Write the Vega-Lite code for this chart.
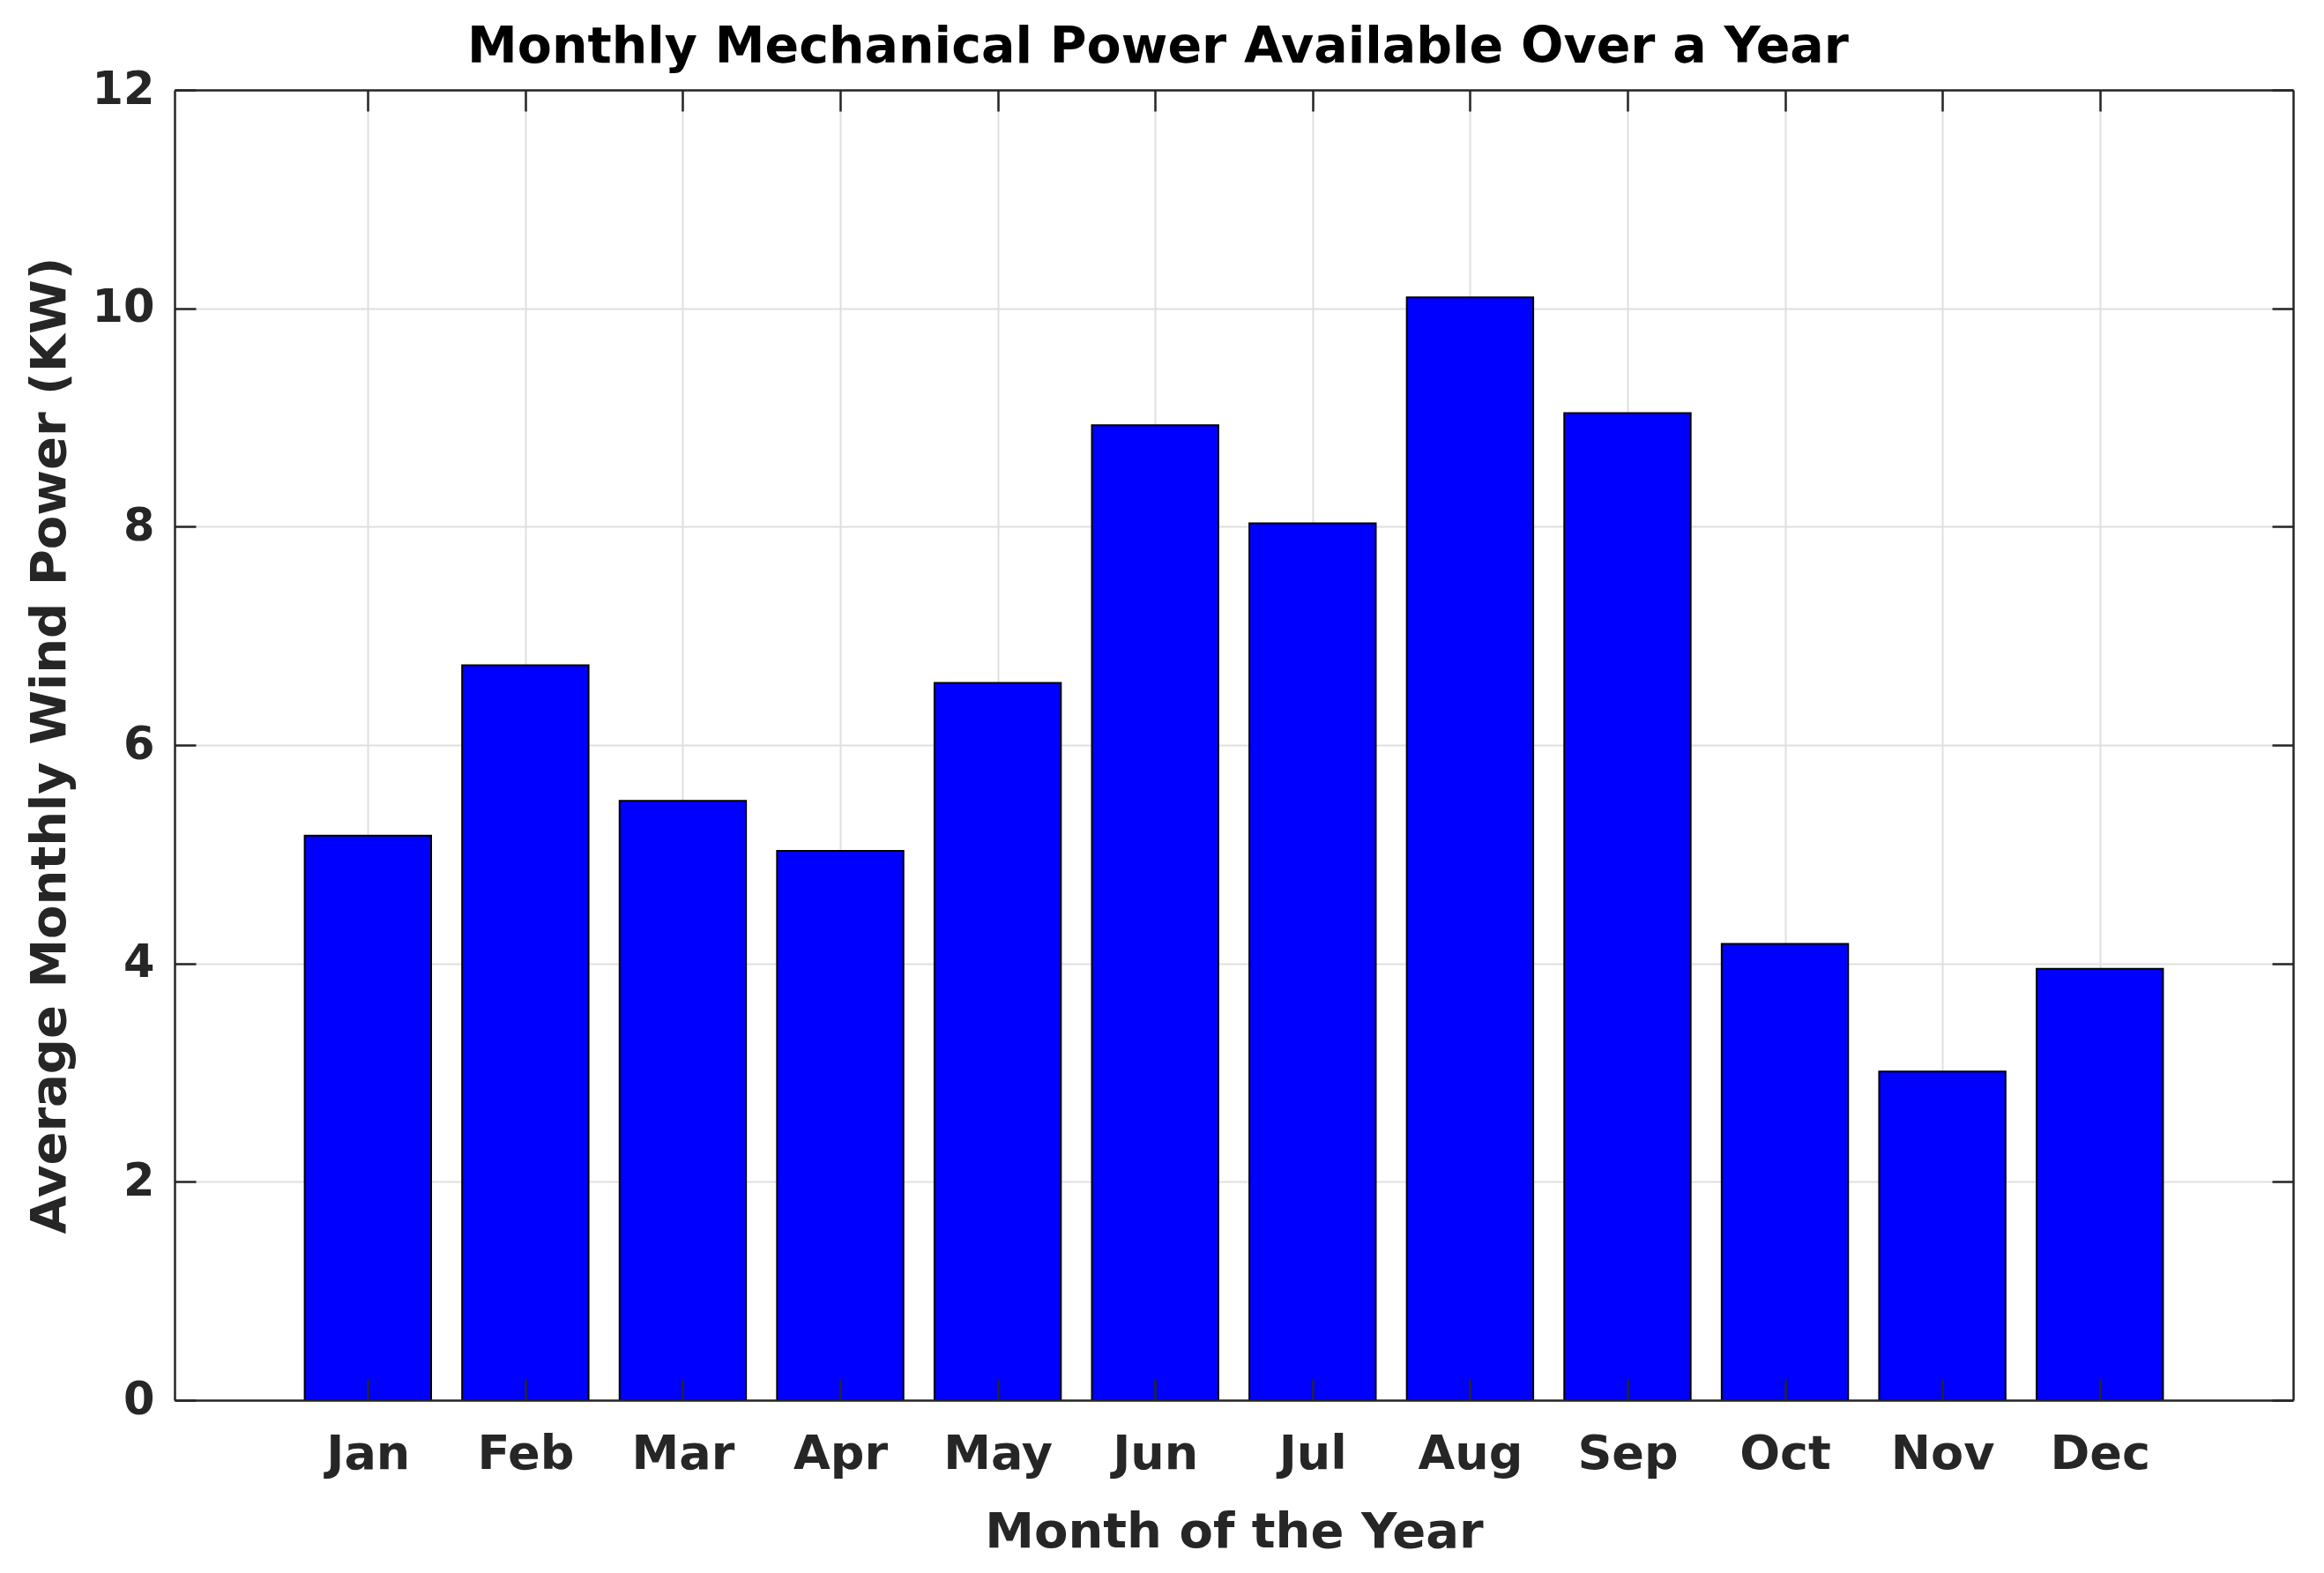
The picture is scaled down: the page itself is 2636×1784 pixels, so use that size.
{
  "$schema": "https://vega.github.io/schema/vega-lite/v6.json",
  "width": 2403,
  "height": 1486,
  "autosize": {"type": "none"},
  "padding": {"left": 198, "top": 102, "right": 35, "bottom": 196},
  "background": "white",
  "title": {
    "text": "Monthly Mechanical Power Available Over a Year",
    "anchor": "start",
    "frame": "group",
    "dx": 332,
    "dy": 81,
    "offset": 29,
    "baseline": "alphabetic",
    "font": "DejaVu Sans",
    "fontSize": 57,
    "fontWeight": "bold",
    "color": "#000000"
  },
  "config": {"view": {"stroke": null}},
  "data": {
    "values": [
      {"month": "Jan", "m": 1, "power": 5.17},
      {"month": "Feb", "m": 2, "power": 6.73},
      {"month": "Mar", "m": 3, "power": 5.49},
      {"month": "Apr", "m": 4, "power": 5.03},
      {"month": "May", "m": 5, "power": 6.57},
      {"month": "Jun", "m": 6, "power": 8.93},
      {"month": "Jul", "m": 7, "power": 8.03},
      {"month": "Aug", "m": 8, "power": 10.1},
      {"month": "Sep", "m": 9, "power": 9.04},
      {"month": "Oct", "m": 10, "power": 4.18},
      {"month": "Nov", "m": 11, "power": 3.01},
      {"month": "Dec", "m": 12, "power": 3.95}
    ]
  },
  "layer": [
    {
      "mark": {"type": "bar", "width": 143.4, "fill": "#0000ff", "stroke": "#000000", "strokeWidth": 2},
      "encoding": {
        "x": {
          "field": "m",
          "type": "quantitative",
          "scale": {"domain": [-0.2, 13.2], "nice": false, "zero": false},
          "axis": {
            "orient": "bottom",
            "zindex": 1,
            "values": [1, 2, 3, 4, 5, 6, 7, 8, 9, 10, 11, 12],
            "labelExpr": "['Jan','Feb','Mar','Apr','May','Jun','Jul','Aug','Sep','Oct','Nov','Dec'][datum.value - 1]",
            "grid": false,
            "domain": true,
            "domainColor": "#262626",
            "domainWidth": 2.5,
            "ticks": true,
            "tickSize": -24,
            "tickColor": "#262626",
            "tickWidth": 2.5,
            "labelFont": "DejaVu Sans",
            "labelFontSize": 54,
            "labelFontWeight": "bold",
            "labelColor": "#262626",
            "labelBaseline": "alphabetic",
            "labelPadding": 101,
            "labelFlush": false,
            "labelOverlap": false,
            "title": "Month of the Year",
            "titleFont": "DejaVu Sans",
            "titleFontSize": 56,
            "titleFontWeight": "bold",
            "titleColor": "#262626",
            "titleBaseline": "alphabetic",
            "titleY": 166
          }
        },
        "y": {
          "field": "power",
          "type": "quantitative",
          "scale": {"domain": [0, 12], "nice": false},
          "axis": {
            "orient": "left",
            "zindex": 0,
            "values": [0, 2, 4, 6, 8, 10, 12],
            "grid": true,
            "gridColor": "#dfdfdf",
            "gridWidth": 2,
            "domain": true,
            "domainColor": "#262626",
            "domainWidth": 2.5,
            "ticks": true,
            "tickSize": -24,
            "tickColor": "#262626",
            "tickWidth": 2.5,
            "labelFont": "DejaVu Sans",
            "labelFontSize": 51,
            "labelFontWeight": "bold",
            "labelColor": "#262626",
            "labelPadding": 47,
            "labelFlush": false,
            "labelOverlap": false,
            "title": "Average Monthly Wind Power (KW)",
            "titleFont": "DejaVu Sans",
            "titleFontSize": 56,
            "titleFontWeight": "bold",
            "titleColor": "#262626",
            "titleBaseline": "alphabetic",
            "titleX": -125,
            "titleY": 743
          }
        }
      }
    },
    {
      "mark": {"type": "point", "opacity": 0},
      "encoding": {
        "x": {
          "field": "m",
          "type": "quantitative",
          "axis": {
            "orient": "top",
            "zindex": 0,
            "values": [1, 2, 3, 4, 5, 6, 7, 8, 9, 10, 11, 12],
            "grid": true,
            "gridColor": "#dfdfdf",
            "gridWidth": 2,
            "labels": false,
            "title": null,
            "domain": true,
            "domainColor": "#262626",
            "domainWidth": 2.5,
            "ticks": true,
            "tickSize": -24,
            "tickColor": "#262626",
            "tickWidth": 2.5
          }
        },
        "y": {
          "field": "power",
          "type": "quantitative",
          "axis": {
            "orient": "right",
            "zindex": 0,
            "values": [0, 2, 4, 6, 8, 10, 12],
            "grid": false,
            "labels": false,
            "title": null,
            "domain": true,
            "domainColor": "#262626",
            "domainWidth": 2.5,
            "ticks": true,
            "tickSize": -24,
            "tickColor": "#262626",
            "tickWidth": 2.5
          }
        }
      }
    }
  ]
}
